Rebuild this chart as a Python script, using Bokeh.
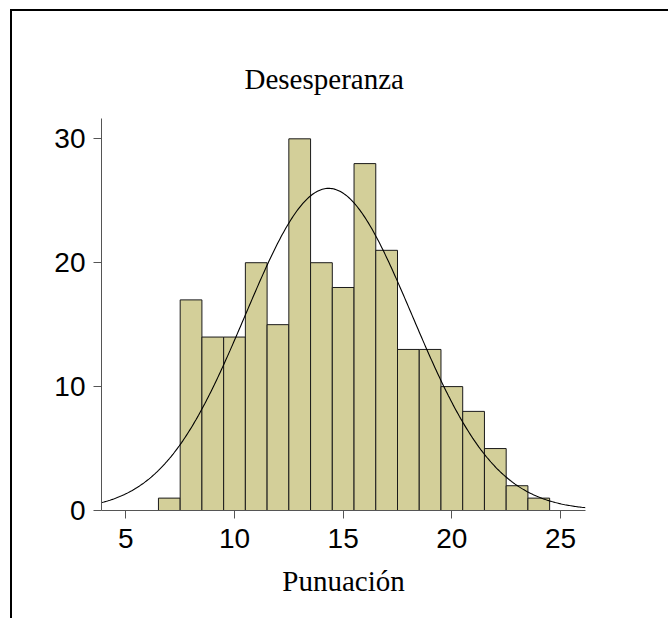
import numpy as np
from bokeh.plotting import figure
from bokeh.models import Range1d, FixedTicker, Title, ColumnDataSource
from bokeh.embed import file_html
from bokeh.resources import INLINE

# Data (bin centres and counts)
bin_centers = [7, 8, 9, 10, 11, 12, 13, 14, 15, 16, 17, 18, 19, 20, 21, 22, 23, 24]
counts = [1, 17, 14, 14, 20, 15, 30, 20, 18, 28, 21, 13, 13, 10, 8, 5, 2, 1]
bin_width = 1.0
x_ticks = [5, 10, 15, 20, 25]
y_ticks = [0, 10, 20, 30]
title_text = "Desesperanza"
x_label = "Punuación"

centers = np.array(bin_centers, dtype=float)
cnt = np.array(counts, dtype=float)
n = cnt.sum()
mean = (centers * cnt).sum() / n
var = (cnt * (centers - mean) ** 2).sum() / (n - 1)
sd = np.sqrt(var)

x0, x1 = 3.88, 26.15
xs = np.linspace(x0, x1, 400)
ys = n * bin_width / (sd * np.sqrt(2 * np.pi)) * np.exp(-0.5 * ((xs - mean) / sd) ** 2)

p = figure(width=658, height=609, output_backend="svg", toolbar_location=None,
           x_range=Range1d(x0, x1), y_range=Range1d(0, 31.64),
           min_border_left=89, min_border_right=85, min_border_top=107, min_border_bottom=110)
p.styles = {"margin-left": "10px", "margin-top": "9px",
            "border-top": "2px solid black", "border-left": "2px solid black"}

p.title = Title(text=title_text, align="left", offset=143,
                text_font="Liberation Serif", text_font_size="29px",
                text_font_style="normal", text_color="black", standoff=48)

src = ColumnDataSource(dict(x=centers, top=cnt))
p.vbar(x="x", top="top", bottom=0, width=bin_width, source=src,
       fill_color="#D3CF99", line_color="#1a1a1a", line_width=1.0)
p.line(xs, ys, line_color="black", line_width=1.1)

p.xgrid.visible = False
p.ygrid.visible = False
p.outline_line_color = None

for ax in (p.xaxis[0], p.yaxis[0]):
    ax.major_label_text_font = "Liberation Sans"
    ax.major_label_text_font_size = "28px"
    ax.major_label_text_color = "black"
    ax.major_tick_out = 8
    ax.major_tick_in = 0
    ax.minor_tick_out = 0
    ax.minor_tick_in = 0
    ax.axis_line_color = "#555555"
    ax.major_tick_line_color = "#555555"
    ax.major_label_standoff = 8

p.xaxis[0].major_label_standoff = 10
p.xaxis[0].ticker = FixedTicker(ticks=x_ticks)
p.yaxis[0].ticker = FixedTicker(ticks=y_ticks)
p.xaxis[0].axis_label = x_label
p.xaxis[0].axis_label_text_font = "Liberation Serif"
p.xaxis[0].axis_label_text_font_size = "29px"
p.xaxis[0].axis_label_text_font_style = "normal"
p.xaxis[0].axis_label_text_color = "black"
p.xaxis[0].axis_label_standoff = 14

open("out.html", "w").write(file_html(p, INLINE))
